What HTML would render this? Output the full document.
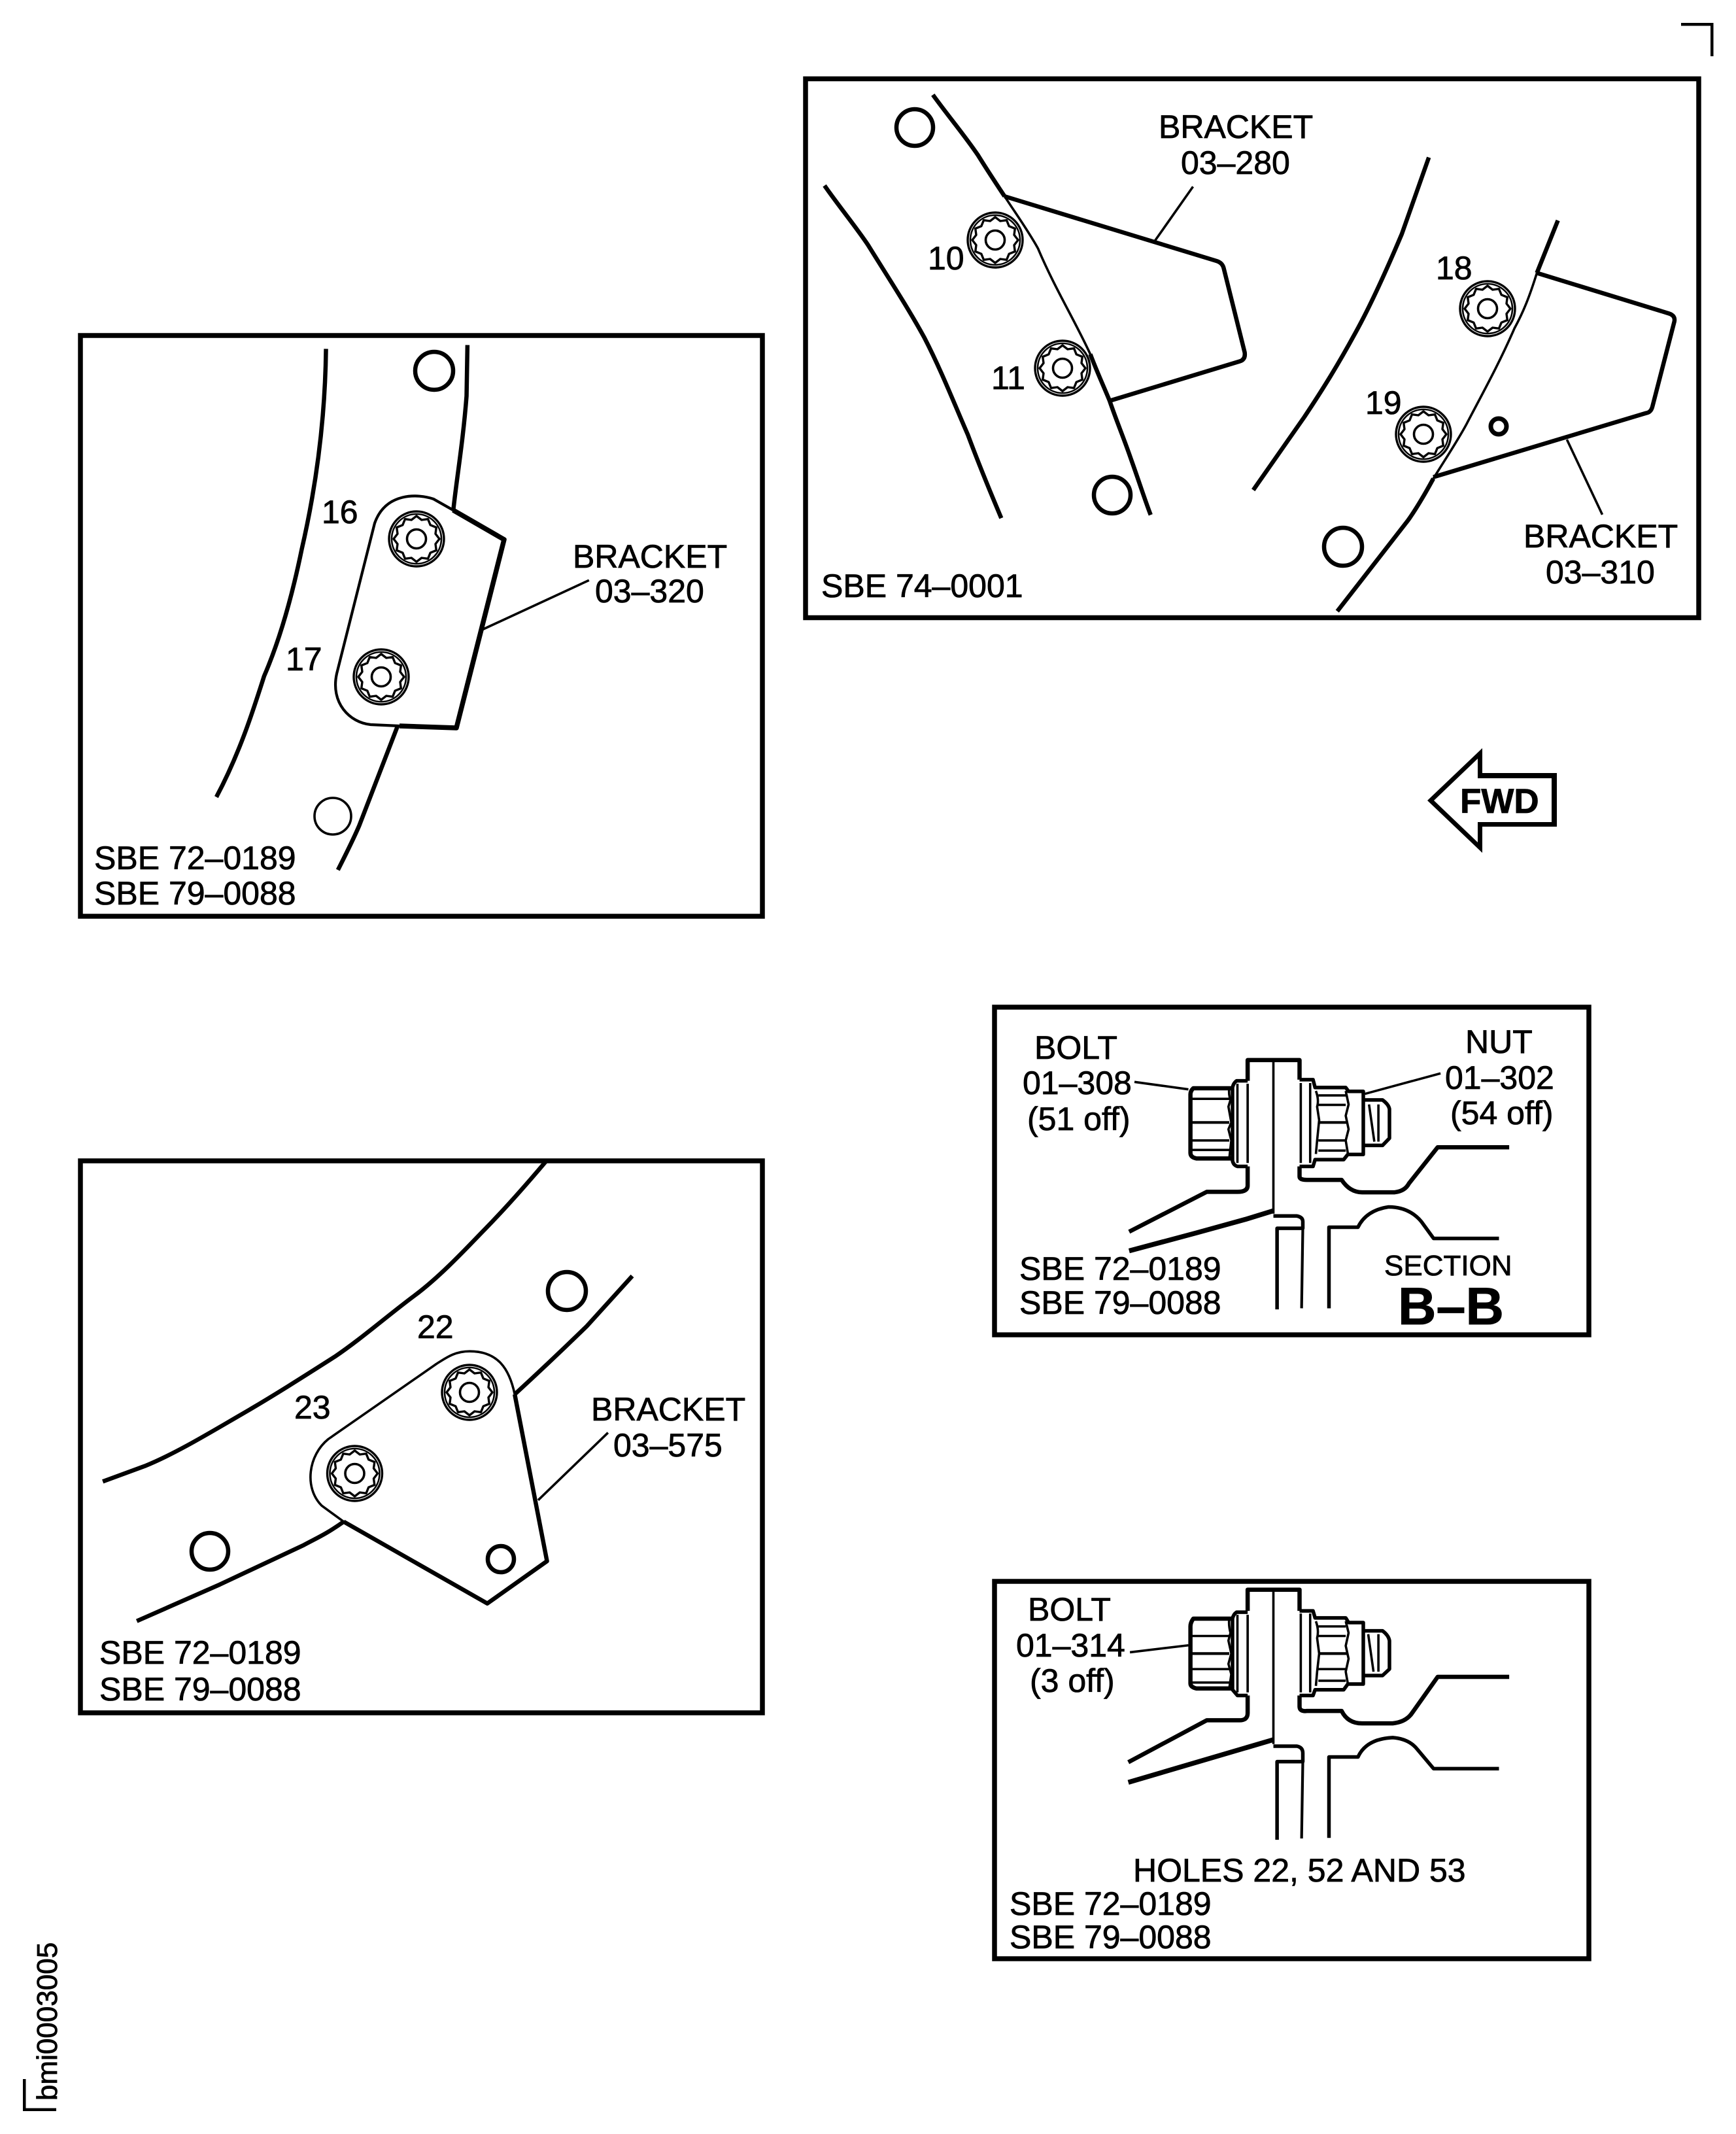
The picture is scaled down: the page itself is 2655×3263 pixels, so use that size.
<!DOCTYPE html>
<html lang="en">
<head>
<meta charset="utf-8">
<title>Bracket diagram</title>
<style>
html,body{margin:0;padding:0;background:#fff;width:2655px;height:3263px;overflow:hidden}
svg{display:block;position:absolute;left:0;top:0}
path,line,polyline,rect,circle{vector-effect:non-scaling-stroke}
.l{fill:none;stroke:#000;stroke-linejoin:round;stroke-linecap:butt}
.t7{stroke-width:7.5}.t6{stroke-width:6.5}.t5{stroke-width:5.5}.t4{stroke-width:4.2}.t3{stroke-width:3.6}
text{font-family:"Liberation Sans",Arial,sans-serif;font-size:50px;fill:#000;stroke:#000;stroke-width:.8px;font-variant-ligatures:none}
.b{font-weight:bold}
</style>
</head>
<body>
<svg xmlns="http://www.w3.org/2000/svg" width="2655" height="3263" viewBox="0 0 2655 3263">
<defs>
<g id="bolt" fill="none" stroke="#000">
<circle r="42" stroke-width="3.4"/>
<circle r="38" stroke-width="2.6"/>
<polygon stroke-width="3.4" stroke-linejoin="round" points="35,0 29,7.8 30.3,17.5 21.2,21.2 17.5,30.3 7.8,29 0,35 -7.8,29 -17.5,30.3 -21.2,21.2 -30.3,17.5 -29,7.8 -35,0 -29,-7.8 -30.3,-17.5 -21.2,-21.2 -17.5,-30.3 -7.8,-29 0,-35 7.8,-29 17.5,-30.3 21.2,-21.2 30.3,-17.5 29,-7.8"/>
<circle r="14.5" stroke-width="3.6"/>
</g>
</defs>
<rect width="2655" height="3263" fill="#fff"/>

<!-- corners -->
<rect x="2571" y="35" width="49" height="4.5"/>
<rect x="2616" y="35" width="4.5" height="51"/>
<rect x="35" y="3179" width="4.5" height="49"/>
<rect x="35" y="3223.5" width="51" height="4.5"/>
<text transform="translate(87,3212) rotate(-90)" style="font-size:44px">bmi0003005</text>

<!-- ============ Panel top right ============ -->
<rect x="1232" y="120.5" width="1366" height="824" fill="none" stroke="#000" stroke-width="7.5"/>
<g transform="translate(1210,100) scale(.51,.5485)">
<path class="l t6" d="M425,82 C470,140 520,195 560,250 C590,295 615,330 640,365"/>
<path class="l t3" d="M640,365 C675,415 710,460 740,510 C790,620 850,710 897,805"/>
<path class="l t6" d="M897,805 C915,850 935,890 955,935 C975,990 1000,1045 1020,1100 C1045,1165 1062,1215 1078,1253"/>
<path class="l t6" d="M100,335 C145,395 190,445 230,500 C290,590 350,675 400,760 C450,850 490,945 530,1030 C570,1130 600,1195 630,1262"/>
<path class="l t6" d="M640,365 L1275,545 Q1293,550 1297,565 L1360,800 Q1363,820 1345,825 L955,935"/>
<path class="l t3" d="M1205,338 L1090,490"/>
</g>
<use href="#bolt" x="1522" y="367"/>
<use href="#bolt" x="1625" y="563"/>
<circle cx="1399" cy="195" r="28" fill="none" stroke="#000" stroke-width="6.5"/>
<circle cx="1701" cy="757" r="28" fill="none" stroke="#000" stroke-width="6.5"/>
<g transform="translate(1880,220) scale(.459,.459)">
<path class="l t6" d="M665,45 L575,300 C520,430 470,540 420,630 C360,740 310,820 250,910 L80,1153"/>
<path class="l t6" d="M1095,255 L1025,430"/>
<path class="l t3" d="M1025,430 C1000,510 980,560 950,615 C900,730 850,820 795,925 C770,975 720,1050 680,1115"/>
<path class="l t6" d="M680,1115 C650,1170 620,1220 595,1255 L360,1557"/>
<path class="l t6" d="M1025,430 L1465,565 Q1487,572 1483,592 L1410,875 Q1405,895 1388,897 L680,1110"/>
<path class="l t3" d="M1125,985 L1243,1235"/>
</g>
<use href="#bolt" x="2275" y="472"/>
<use href="#bolt" x="2177" y="664"/>
<circle cx="2292" cy="652" r="12" fill="none" stroke="#000" stroke-width="7"/>
<circle cx="2054" cy="836" r="29" fill="none" stroke="#000" stroke-width="6.5"/>
<text x="1772" y="211">BRACKET</text>
<text x="1806" y="266">03–280</text>
<text x="1419" y="412">10</text>
<text x="1516" y="595">11</text>
<text x="2196" y="427">18</text>
<text x="2088" y="633">19</text>
<text x="2330" y="837">BRACKET</text>
<text x="2364" y="892">03–310</text>
<text x="1256" y="913">SBE 74–0001</text>

<!-- ============ FWD arrow ============ -->
<polygon points="2183,1224 2267,1144 2267,1182 2381,1182 2381,1264 2267,1264 2267,1304"/>
<polygon fill="#fff" points="2193,1224 2260,1160 2260,1190 2373,1190 2373,1257 2260,1257 2260,1288"/>
<text class="b" x="2233" y="1243" style="font-size:53px">FWD</text>

<!-- ============ Panel left upper ============ -->
<rect x="123" y="513" width="1043" height="888" fill="none" stroke="#000" stroke-width="7.5"/>
<g transform="translate(120,500) scale(.676,.5867)">
<path class="l t6" d="M560,57 C558,250 535,430 505,580 C480,720 450,830 420,910 C395,1000 365,1110 312,1225"/>
<path class="l t6" d="M880,47 L878,180 C870,300 855,400 848,478"/>
<path class="l t6" d="M722,1040 L635,1300 Q620,1340 587,1415"/>
<path class="l t3" d="M915,788 L1155,660"/>
</g>
<path class="l t4" d="M693,780 L663,763 C640,755 590,752 573,800 L515,1030 C505,1075 535,1105 567,1108 L611,1110"/>
<path class="l t7" d="M693,780 L771,825 L698,1113 L611,1110"/>
<use href="#bolt" x="637" y="824"/>
<use href="#bolt" x="583" y="1035"/>
<circle cx="664" cy="567" r="29" fill="none" stroke="#000" stroke-width="6.5"/>
<circle cx="509" cy="1248" r="28" fill="none" stroke="#000" stroke-width="3.6"/>
<text x="492" y="800">16</text>
<text x="437" y="1025">17</text>
<text x="876" y="868">BRACKET</text>
<text x="910" y="921">03–320</text>
<text x="144" y="1329">SBE 72–0189</text>
<text x="144" y="1383">SBE 79–0088</text>

<!-- ============ Panel left lower ============ -->
<rect x="123" y="1775" width="1043" height="844" fill="none" stroke="#000" stroke-width="7.5"/>
<g transform="translate(120,1770) scale(.676,.5485)">
<path class="l t6" d="M1058,10 C1010,80 970,135 935,180 C880,250 820,330 760,385 C700,440 640,505 580,555 C510,610 440,665 370,715 C300,765 220,825 150,860 L55,903"/>
<path class="l t6" d="M1253,330 L1150,470 C1100,530 1040,600 987,660"/>
<path class="l t3" d="M987,660 C975,590 950,540 885,540 C850,540 830,560 810,575 L565,785 C520,830 510,920 550,970 L600,1015"/>
<path class="l t6" d="M987,660 L1060,1125 L925,1243 L600,1015"/>
<path class="l t6" d="M600,1015 C560,1050 540,1060 510,1080 L320,1190 L132,1292"/>
<path class="l t3" d="M1040,955 L1198,767"/>
</g>
<use href="#bolt" x="718" y="2129"/>
<use href="#bolt" x="542.5" y="2253"/>
<circle cx="867" cy="1974" r="29" fill="none" stroke="#000" stroke-width="6.5"/>
<circle cx="321" cy="2372" r="28" fill="none" stroke="#000" stroke-width="6.5"/>
<circle cx="766" cy="2384" r="20" fill="none" stroke="#000" stroke-width="6.5"/>
<text x="638" y="2046">22</text>
<text x="450" y="2169">23</text>
<text x="904" y="2172">BRACKET</text>
<text x="938" y="2227">03–575</text>
<text x="152" y="2544">SBE 72–0189</text>
<text x="152" y="2600">SBE 79–0088</text>

<!-- ============ Section B-B ============ -->
<rect x="1521" y="1540" width="909" height="501" fill="none" stroke="#000" stroke-width="7.5"/>
<g transform="translate(1480,1520) scale(.625,.3444)">
<path class="l t6" d="M685,385 L685,293 L812,293 L812,380"/>
<path class="l t3" d="M748,300 L748,975"/>
<path class="l t5" d="M685,385 L658,385 Q650,395 648,415 L648,740 Q650,760 660,765 L685,765"/>
<path class="l t3" d="M660,398 L660,750 M685,398 L685,750"/>
<path class="l t6" d="M685,765 L685,850 Q685,878 660,878 L585,878 L395,1055"/>
<path class="l t6" d="M645,418 L552,418 Q545,430 545,445 L545,705 Q545,725 560,730 L645,730"/>
<path class="l t3" d="M548,465 L640,465 M548,650 L640,650 M548,692 L640,692"/>
<path class="l t4" d="M548,570 L640,570"/>
<path class="l t3" d="M640,418 Q638,445 643,470 L638,500 L645,570 L638,600 L645,650 L640,730"/>
<path class="l t5" d="M812,380 L845,380 L850,415 L925,415 L932,432 L968,432 L968,712 L930,712 L920,735 L850,735 L845,765 L812,765"/>
<path class="l t3" d="M815,395 L815,750 M838,395 L838,750"/>
<path class="l t3" d="M852,430 Q860,470 855,500 L860,560 L855,650 L852,710"/>
<path class="l t3" d="M925,430 L932,490 L925,540 L932,600 L925,650 L930,705"/>
<path class="l t3" d="M858,450 L925,450 M858,492 L925,492 M858,650 L925,650 M858,695 L925,695"/>
<path class="l t4" d="M858,570 L930,570"/>
<path class="l t5" d="M968,470 L1015,470 Q1030,490 1032,510 L1032,640 L1015,672 L968,672"/>
<path class="l t3" d="M982,490 L995,655 M1005,490 L1005,655"/>
<path class="l t6" d="M812,765 L812,810 Q812,825 830,825 L915,825 Q935,880 965,880 L1045,880 Q1070,875 1080,840 L1150,680 L1325,680"/>
<path class="l t7" d="M395,1140 L560,1060 L680,1000 L748,962"/>
<path class="l t5" d="M748,985 L805,985 Q820,990 820,1010 L820,1040 L757,1040 L757,1400"/>
<path class="l t4" d="M820,1040 L817,1395"/>
<path class="l t5" d="M884,1395 L884,1035 L955,1035 Q975,960 1030,945 Q1080,945 1110,1010 L1140,1085 L1300,1085"/>
<path class="l t3" d="M408,390 L540,423 M972,443 L1157,352"/>
</g>
<text x="1582" y="1619">BOLT</text>
<text x="1564" y="1673">01–308</text>
<text x="1571" y="1728">(51 off)</text>
<text x="2241" y="1610">NUT</text>
<text x="2210" y="1665">01–302</text>
<text x="2218" y="1719">(54 off)</text>
<text x="1559" y="1957">SBE 72–0189</text>
<text x="1559" y="2009">SBE 79–0088</text>
<text x="2117" y="1950" style="font-size:44px">SECTION</text>
<text class="b" x="2138" y="2025" style="font-size:81px">B–B</text>

<!-- ============ Holes detail ============ -->
<rect x="1521" y="2418" width="909" height="577" fill="none" stroke="#000" stroke-width="7.5"/>
<g transform="translate(1480,2390) scale(.625,.3954)">
<path class="l t6" d="M685,185 L685,103 L812,103 L812,185"/>
<path class="l t3" d="M748,110 L748,700"/>
<path class="l t5" d="M685,190 L658,190 Q650,198 648,215 L648,490 L660,512 L685,512"/>
<path class="l t3" d="M660,200 L660,500 M685,200 L685,500"/>
<path class="l t6" d="M685,512 L685,580 Q685,608 665,608 L585,608 L393,770"/>
<path class="l t6" d="M645,215 L552,215 Q545,230 545,245 L545,465 Q545,480 560,485 L645,485"/>
<path class="l t3" d="M548,282 L640,282 M548,410 L640,410 M548,462 L640,462"/>
<path class="l t4" d="M548,350 L640,350"/>
<path class="l t3" d="M640,215 Q638,240 643,270 L638,300 L645,350 L638,390 L645,430 L640,485"/>
<path class="l t5" d="M812,185 L845,185 L850,212 L925,212 L932,230 L968,230 L968,468 L930,468 L920,490 L850,490 L845,512 L812,512"/>
<path class="l t3" d="M815,195 L815,500 M838,195 L838,500"/>
<path class="l t3" d="M852,225 Q860,260 855,290 L860,350 L855,420 L852,475"/>
<path class="l t3" d="M925,225 L932,270 L925,320 L932,370 L925,420 L930,465"/>
<path class="l t3" d="M858,245 L925,245 M858,282 L925,282 M858,410 L925,410 M858,455 L925,455"/>
<path class="l t4" d="M858,350 L930,350"/>
<path class="l t5" d="M968,262 L1015,262 Q1030,280 1032,300 L1032,410 L1015,435 L968,435"/>
<path class="l t3" d="M980,275 L993,420 M1005,275 L1005,420"/>
<path class="l t6" d="M812,512 L812,555 Q812,575 830,572 L915,572 Q930,620 965,620 L1040,620 Q1070,615 1085,585 L1150,440 L1325,440"/>
<path class="l t7" d="M393,848 L748,683"/>
<path class="l t5" d="M748,708 L805,708 Q820,712 820,735 L820,768 L757,768 L757,1070"/>
<path class="l t4" d="M820,768 L817,1065"/>
<path class="l t5" d="M884,1063 L884,750 L955,750 Q975,680 1040,675 Q1080,680 1100,720 L1140,795 L1300,795"/>
<path class="l t3" d="M397,345 L540,318"/>
</g>
<text x="1572" y="2478">BOLT</text>
<text x="1554" y="2533">01–314</text>
<text x="1575" y="2587">(3 off)</text>
<text x="1733" y="2877">HOLES 22, 52 AND 53</text>
<text x="1544" y="2928">SBE 72–0189</text>
<text x="1544" y="2979">SBE 79–0088</text>
</svg>
</body>
</html>
